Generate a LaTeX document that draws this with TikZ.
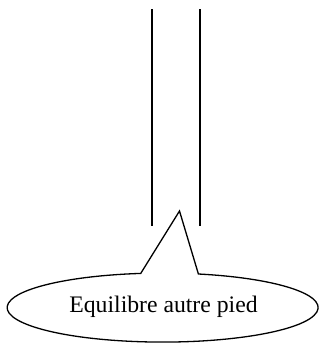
\documentclass[tikz,border=0pt]{standalone}
\usepackage{fontspec}
\setmainfont{Liberation Serif}
\begin{document}
\begin{tikzpicture}[x=1pt,y=-1pt,
  stroke/.style={line width=1.3pt, line join=miter},
  label/.style={font=\fontsize{23.7}{28}\selectfont, inner sep=0pt}]
\useasboundingbox (0,0) rectangle (322,343);
% two vertical lines
\coordinate (l1) at (152,9);
\coordinate (l2) at (152,226);
\coordinate (r1) at (200,9);
\coordinate (r2) at (200,226);
\draw[stroke] (l1) -- (l2);
\draw[stroke] (r1) -- (r2);
% callout
\coordinate (tip) at (179.5,211);
\coordinate (rb) at (198.4,274);
\draw[stroke] (tip) -- (rb)
  arc[start angle=-76.7, end angle=261.9, x radius=155.5, y radius=34.5] -- cycle;
\node[label, anchor=base] (txt) at (163.5,312) {Equilibre autre pied};
\end{tikzpicture}
\end{document}
